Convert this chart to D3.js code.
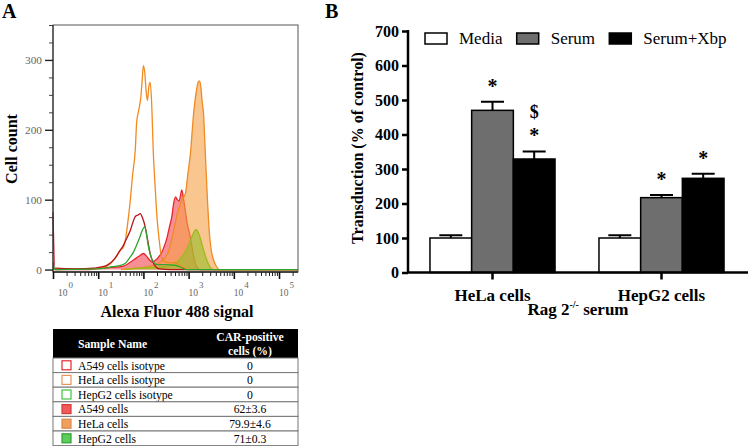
<!DOCTYPE html>
<html>
<head>
<meta charset="utf-8">
<script src="https://cdn.jsdelivr.net/npm/d3@7/dist/d3.min.js"></script>
<style>
  body { margin: 0; background: #fff; }
  svg { display: block; font-family: "Liberation Serif", "Times New Roman", serif; }
</style>
</head>
<body>
<svg id="chart" width="750" height="446"></svg>
<script>
// ---- Panel A: flow histograms, x = log10(signal), y = cell count ----
var a549Isotype = [[0, 82], [0.04, 2], [0.5, 1], [0.9, 2], [1.0, 3], [1.19, 6], [1.37, 16], [1.47, 26], [1.56, 35], [1.64, 46], [1.71, 56], [1.77, 68], [1.82, 76], [1.88, 78], [1.93, 80], [1.98, 74], [2.04, 61], [2.1, 40], [2.15, 23], [2.21, 11], [2.26, 5], [2.35, 1], [2.6, 0], [5.42, 0]];
var helaIsotype = [[0, 3], [0.05, 0], [0.5, 1], [1.0, 2], [1.2, 5], [1.34, 13], [1.43, 22], [1.49, 28], [1.55, 31], [1.6, 42], [1.65, 65], [1.71, 99], [1.76, 135], [1.82, 171], [1.85, 210], [1.89, 226], [1.94, 245], [1.97, 268], [2.0, 292], [2.03, 282], [2.06, 255], [2.09, 242], [2.12, 262], [2.15, 268], [2.18, 242], [2.22, 166], [2.26, 118], [2.3, 75], [2.35, 42], [2.4, 18], [2.45, 12], [2.55, 10], [2.7, 10], [2.8, 6], [2.9, 2], [3.0, 0], [5.42, 0]];
var hepg2Isotype = [[0, 10], [0.04, 0], [1.0, 1], [1.15, 2], [1.3, 4], [1.49, 6], [1.6, 9], [1.71, 18], [1.78, 25], [1.85, 35], [1.93, 48], [1.98, 57], [2.03, 61], [2.07, 50], [2.11, 33], [2.16, 20], [2.22, 11], [2.3, 7], [2.5, 7], [2.7, 6], [2.8, 4], [2.95, 0], [5.42, 0]];
var a549Cells = [[0, 4], [0.04, 0], [0.8, 0], [1.0, 2], [1.3, 3], [1.56, 5], [1.7, 10], [1.79, 14], [1.9, 19], [2.0, 23], [2.07, 19], [2.13, 14], [2.19, 11], [2.28, 14], [2.36, 20], [2.41, 25], [2.47, 35], [2.52, 45], [2.58, 62], [2.63, 76], [2.67, 95], [2.71, 104], [2.75, 100], [2.79, 98], [2.85, 114], [2.89, 100], [2.93, 83], [2.98, 62], [3.02, 52], [3.06, 38], [3.1, 23], [3.17, 5], [3.25, 0], [5.42, 0]];
var helaCells = [[1.5, 0], [1.8, 2], [2.0, 3], [2.15, 5], [2.3, 8], [2.45, 15], [2.55, 25], [2.65, 50], [2.75, 80], [2.85, 100], [2.93, 109], [2.98, 135], [3.04, 166], [3.11, 223], [3.17, 255], [3.21, 268], [3.24, 270], [3.27, 262], [3.3, 240], [3.33, 223], [3.37, 166], [3.41, 109], [3.46, 52], [3.5, 28], [3.55, 14], [3.62, 4], [3.68, 0], [5.42, 0]];
var hepg2Cells = [[1.6, 0], [1.9, 2], [2.2, 3], [2.5, 4], [2.6, 6], [2.7, 8], [2.78, 13], [2.85, 18], [2.95, 28], [3.0, 35], [3.06, 45], [3.12, 54], [3.17, 57], [3.22, 52], [3.28, 40], [3.33, 28], [3.4, 14], [3.47, 4], [3.55, 0], [5.42, 0]];

var countTicks = [0, 100, 200, 300];
var decadeTicks = [0, 1, 2, 3, 4, 5];

// ---- Panel A table ----
var sampleNames = ['A549 cells isotype', 'HeLa cells isotype', 'HepG2 cells isotype', 'A549 cells', 'HeLa cells', 'HepG2 cells'];
var carPositive = ['0', '0', '0', '62\u00b13.6', '79.9\u00b14.6', '71\u00b10.3'];

// ---- Panel B: transduction bars ----
var cellLines = ['HeLa cells', 'HepG2 cells'];
var treatments = ['Media', 'Serum', 'Serum+Xbp'];
var transduction = {
  'HeLa cells': [100, 470, 329],
  'HepG2 cells': [100, 217, 273]
};
var transductionSem = {
  'HeLa cells': [8, 25, 22],
  'HepG2 cells': [8, 8, 13]
};
var sigMarks = [
  ['HeLa cells', 'Serum', ['*']],
  ['HeLa cells', 'Serum+Xbp', ['*', '$']],
  ['HepG2 cells', 'Serum', ['*']],
  ['HepG2 cells', 'Serum+Xbp', ['*']]
];
var transductionTicks = [0, 100, 200, 300, 400, 500, 600, 700];

var svg = d3.select('#chart');

// =================== Panel A ===================
var histSeries = [
  { data: a549Cells, fill: 'rgba(242,70,80,0.6)', stroke: '#e8262c' },
  { data: helaCells, fill: 'rgba(246,160,70,0.6)', stroke: '#f08a24' },
  { data: hepg2Cells, fill: 'rgba(150,190,40,0.6)', stroke: '#9bbb1a' },
  { data: helaIsotype, fill: 'none', stroke: '#f28a1e' },
  { data: a549Isotype, fill: 'none', stroke: '#b8141c' },
  { data: hepg2Isotype, fill: 'none', stroke: '#2fa52f' }
];

var xA = d3.scaleLog().domain([1, Math.pow(10, 5.42)]).range([53, 298]);
var yA = d3.scaleLinear().domain([-3.5, 350]).range([272, 25]);

var gA = svg.append('g');

var area = d3.area()
  .x(function(d) { return xA(Math.pow(10, d[0])); })
  .y0(yA(0))
  .y1(function(d) { return yA(d[1]); })
  .curve(d3.curveMonotoneX);
var line = area.lineY1();

histSeries.forEach(function(s) {
  if (s.fill !== 'none') {
    gA.append('path').datum(s.data).attr('d', area).attr('fill', s.fill);
  }
  gA.append('path').datum(s.data).attr('d', line)
    .attr('fill', 'none').attr('stroke', s.stroke).attr('stroke-width', 1.3);
});

gA.append('rect')
  .attr('x', 53).attr('y', 25).attr('width', 245).attr('height', 247)
  .attr('fill', 'none').attr('stroke', '#555').attr('stroke-width', 1);

// d3 axes put sans-serif on the group; let the page serif through
function serifAxis(g) {
  g.attr('font-family', null);
}

// y axis (major + minor)
var minorCounts = d3.range(0, 351, 25).filter(function(v) { return v % 100 !== 0; });
gA.append('g').attr('transform', 'translate(53,0)')
  .call(d3.axisLeft(yA).tickValues(minorCounts).tickSize(4).tickFormat(''))
  .call(function(g) { g.select('.domain').remove(); g.selectAll('line').attr('stroke', '#444'); });
gA.append('g').attr('transform', 'translate(53,0)')
  .call(d3.axisLeft(yA).tickValues(countTicks).tickSize(8).tickPadding(3))
  .call(serifAxis)
  .call(function(g) {
    g.select('.domain').attr('stroke', '#222').attr('d', 'M0,25V272');
    g.selectAll('line').attr('stroke', '#222').attr('stroke-width', 1.4);
    g.selectAll('text').attr('font-size', 11.3).attr('fill', '#666');
  });

// x axis (log decades + minor)
var minorSignal = [];
decadeTicks.forEach(function(k) {
  for (var m = 2; m <= 9; m++) {
    var v = m * Math.pow(10, k);
    if (v <= xA.domain()[1]) minorSignal.push(v);
  }
});
gA.append('g').attr('transform', 'translate(0,272)')
  .call(d3.axisBottom(xA).tickValues(minorSignal).tickSize(4).tickFormat(''))
  .call(function(g) { g.select('.domain').remove(); g.selectAll('line').attr('stroke', '#222'); });
gA.append('g').attr('transform', 'translate(0,272)')
  .call(d3.axisBottom(xA).tickValues(decadeTicks.map(function(k) { return Math.pow(10, k); })).tickSize(7).tickFormat(''))
  .call(function(g) {
    g.select('.domain').attr('stroke', '#222').attr('stroke-width', 1.4).attr('d', 'M53,0H298');
    g.selectAll('line').attr('stroke', '#111').attr('stroke-width', 1.6);
  });

var decadeLabels = gA.append('g').selectAll('text').data(decadeTicks).join('text')
  .attr('x', function(k) { return xA(Math.pow(10, k)) + (k === 0 ? 5 : 0); })
  .attr('y', 296)
  .attr('font-size', 9.5)
  .attr('fill', '#666');
decadeLabels.append('tspan').text('10');
decadeLabels.append('tspan').attr('dy', -8).attr('dx', 1).attr('font-size', 9).text(function(k) { return k; });

gA.append('text')
  .attr('transform', 'translate(17,149) rotate(-90)')
  .attr('text-anchor', 'middle').attr('font-size', 16).attr('font-weight', 'bold')
  .text('Cell count');
gA.append('text')
  .attr('x', 177).attr('y', 317)
  .attr('text-anchor', 'middle').attr('font-size', 16).attr('font-weight', 'bold')
  .text('Alexa Fluor 488 signal');
svg.append('text').attr('x', 2).attr('y', 18)
  .attr('font-size', 20).attr('font-weight', 'bold').text('A');

// table
var tableX = 53, tableW = 245, headY = 329, headH = 29, rowH = 14.6, tableFont = 11.7;
var gT = svg.append('g');
gT.append('rect').attr('x', tableX).attr('y', headY).attr('width', tableW).attr('height', headH).attr('fill', '#000');
gT.append('text').attr('x', 78).attr('y', headY + 18.5).attr('fill', '#fff')
  .attr('font-size', tableFont).attr('font-weight', 'bold').text('Sample Name');
gT.append('text').attr('x', 250).attr('y', headY + 12).attr('fill', '#fff').attr('text-anchor', 'middle')
  .attr('font-size', tableFont).attr('font-weight', 'bold').text('CAR-positive');
gT.append('text').attr('x', 250).attr('y', headY + 26).attr('fill', '#fff').attr('text-anchor', 'middle')
  .attr('font-size', tableFont).attr('font-weight', 'bold').text('cells (%)');

var swatch = [
  { stroke: '#e8262c', fill: '#fff' },
  { stroke: '#e8955a', fill: '#fff' },
  { stroke: '#3cc43c', fill: '#fff' },
  { stroke: '#d83a3a', fill: '#f05a5a' },
  { stroke: '#d9894a', fill: '#f0a05e' },
  { stroke: '#30a030', fill: '#5ccc5c' }
];
var rows = gT.selectAll('g.row').data(sampleNames).join('g')
  .attr('class', 'row')
  .attr('transform', function(d, i) { return 'translate(0,' + (headY + headH + i * rowH) + ')'; });
rows.append('rect').attr('x', tableX).attr('y', 0).attr('width', tableW).attr('height', rowH)
  .attr('fill', '#fff').attr('stroke', '#777').attr('stroke-width', 1);
rows.append('rect').attr('x', 62).attr('y', rowH / 2 - 4.5).attr('width', 9).attr('height', 9)
  .attr('fill', function(d, i) { return swatch[i].fill; })
  .attr('stroke', function(d, i) { return swatch[i].stroke; }).attr('stroke-width', 1.2);
rows.append('text').attr('x', 78).attr('y', rowH / 2 + 4.2).attr('font-size', tableFont).text(function(d) { return d; });
rows.append('text').attr('x', 250).attr('y', rowH / 2 + 4.2).attr('font-size', tableFont).attr('text-anchor', 'middle')
  .text(function(d, i) { return carPositive[i]; });

// =================== Panel B ===================
var gB = svg.append('g');
var xB = d3.scaleBand().domain(cellLines).range([408, 746]).paddingInner(0.26).paddingOuter(0.13);
var xSub = d3.scaleBand().domain(treatments).range([0, xB.bandwidth()]);
var yB = d3.scaleLinear().domain([0, 700]).range([272.5, 31]);
var barFill = { 'Media': '#fff', 'Serum': '#6e6e6e', 'Serum+Xbp': '#000' };

var groups = gB.selectAll('g.grp').data(cellLines).join('g')
  .attr('class', 'grp')
  .attr('transform', function(c) { return 'translate(' + xB(c) + ',0)'; });

groups.each(function(c) {
  var g = d3.select(this);
  var vals = treatments.map(function(t, i) {
    return { t: t, v: transduction[c][i], e: transductionSem[c][i] };
  });
  // error bars (upper half only)
  g.selectAll('path.err').data(vals).join('path')
    .attr('class', 'err')
    .attr('d', function(d) {
      var cx = xSub(d.t) + xSub.bandwidth() / 2;
      return 'M' + cx + ',' + yB(d.v) + 'V' + yB(d.v + d.e) + 'M' + (cx - 11.5) + ',' + yB(d.v + d.e) + 'H' + (cx + 11.5);
    })
    .attr('stroke', '#000').attr('stroke-width', 2).attr('fill', 'none');
  g.selectAll('rect.bar').data(vals).join('rect')
    .attr('class', 'bar')
    .attr('x', function(d) { return xSub(d.t); })
    .attr('width', xSub.bandwidth())
    .attr('y', function(d) { return yB(d.v); })
    .attr('height', function(d) { return yB(0) - yB(d.v); })
    .attr('fill', function(d) { return barFill[d.t]; })
    .attr('stroke', '#000').attr('stroke-width', 1.5);
});

// significance marks, stacked above the error cap
sigMarks.forEach(function(m) {
  var i = treatments.indexOf(m[1]);
  var top = transduction[m[0]][i] + transductionSem[m[0]][i];
  var cx = xB(m[0]) + xSub(m[1]) + xSub.bandwidth() / 2;
  m[2].forEach(function(s, k) {
    gB.append('text')
      .attr('x', cx).attr('y', yB(top) - 9 - k * 24)
      .attr('text-anchor', 'middle').attr('font-weight', 'bold')
      .attr('font-size', s === '*' ? 20 : 18)
      .text(s);
  });
});

gB.append('g').attr('transform', 'translate(408,0)')
  .call(d3.axisLeft(yB).tickValues(transductionTicks).tickSize(6).tickPadding(3))
  .call(serifAxis)
  .call(function(g) {
    g.select('.domain').attr('stroke-width', 2.5).attr('d', 'M0,30V272.5');
    g.selectAll('line').attr('stroke-width', 2.5);
    g.selectAll('text').attr('font-size', 16).attr('font-weight', 'bold');
  });
gB.append('g').attr('transform', 'translate(0,272.5)')
  .call(d3.axisBottom(xB).tickSize(7).tickPadding(9))
  .call(serifAxis)
  .call(function(g) {
    g.select('.domain').attr('stroke-width', 2.5).attr('d', 'M407,0H748');
    g.selectAll('line').attr('stroke-width', 2.5);
    g.selectAll('text').attr('font-size', 17).attr('font-weight', 'bold');
  });

var ragLabel = gB.append('text').attr('x', 578).attr('y', 315)
  .attr('text-anchor', 'middle').attr('font-size', 17).attr('font-weight', 'bold');
ragLabel.append('tspan').text('Rag 2');
ragLabel.append('tspan').attr('dy', -7).attr('font-size', 10).text('-/-');
ragLabel.append('tspan').attr('dy', 7).text(' serum');

gB.append('text')
  .attr('transform', 'translate(363,148) rotate(-90)')
  .attr('text-anchor', 'middle').attr('font-size', 16).attr('font-weight', 'bold')
  .text('Transduction (% of control)');

svg.append('text').attr('x', 325).attr('y', 18)
  .attr('font-size', 20).attr('font-weight', 'bold').text('B');

var legendX = [425, 516.7, 609.3];
var legend = gB.selectAll('g.leg').data(treatments).join('g')
  .attr('class', 'leg')
  .attr('transform', function(d, i) { return 'translate(' + legendX[i] + ',33)'; });
legend.append('rect').attr('width', 22).attr('height', 11)
  .attr('fill', function(d) { return barFill[d]; }).attr('stroke', '#000').attr('stroke-width', 1.5);
legend.append('text').attr('x', 34).attr('y', 11).attr('font-size', 17).text(function(d) { return d; });
</script>
</body>
</html>
